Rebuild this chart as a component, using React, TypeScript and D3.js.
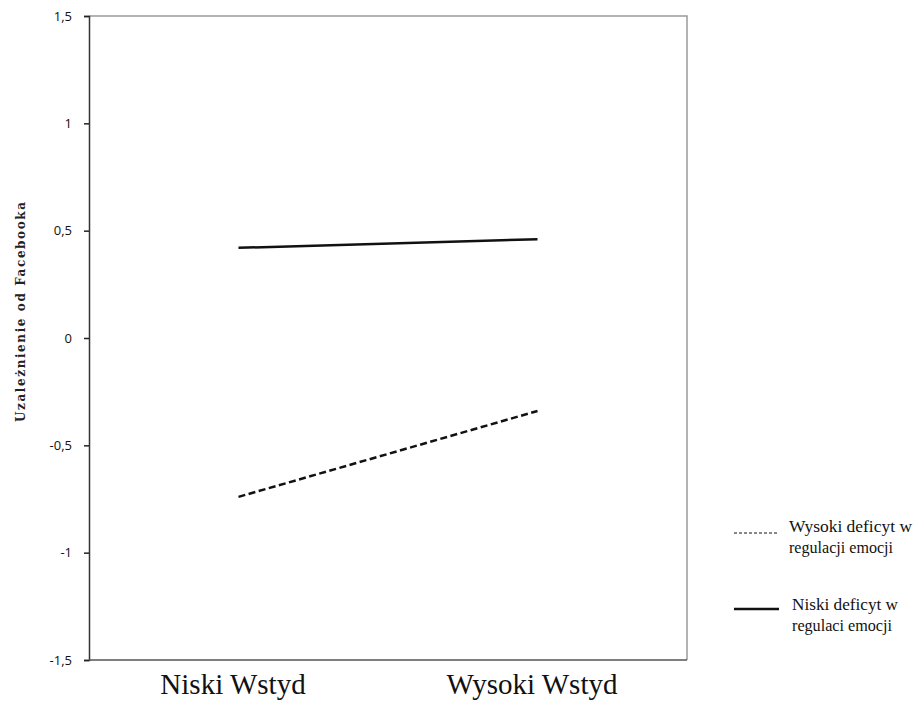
import React, { useRef, useEffect } from "react";
import * as d3 from "d3";

const categories = ["Niski Wstyd", "Wysoki Wstyd"];
const highDeficit = [-0.74, -0.34];
const lowDeficit = [0.42, 0.46];
const yTicks = [-1.5, -1, -0.5, 0, 0.5, 1, 1.5];
const seriesNames = [
  ["Wysoki deficyt w", "regulacji emocji"],
  ["Niski deficyt w", "regulaci emocji"],
];

const SERIF = "'Liberation Serif', 'Times New Roman', serif";
const SANS = "'Open Sans', 'Liberation Sans', sans-serif";

export default function App() {
  const ref = useRef<SVGSVGElement>(null);

  useEffect(() => {
    const width = 915, height = 706;
    const m = { left: 89, right: 228, top: 16, bottom: 46 };
    const svg = d3.select(ref.current).attr("width", width).attr("height", height);
    svg.selectAll("*").remove();

    const x = d3.scalePoint<string>().domain(categories).range([m.left, width - m.right]).padding(0.5);
    const y = d3.scaleLinear().domain([-1.5, 1.5]).range([height - m.bottom, m.top]);

    // ramka: gora i prawa szara
    svg.append("path")
      .attr("d", `M${m.left},${m.top}H${width - m.right}V${height - m.bottom}`)
      .attr("fill", "none").attr("stroke", "#9a9a9a").attr("stroke-width", 1.5);

    // os Y
    const yAxis = svg.append("g").attr("transform", `translate(${m.left},0)`)
      .call(d3.axisLeft(y).tickValues(yTicks).tickSize(5).tickPadding(12)
        .tickFormat(d => String(d).replace(".", ",")));
    yAxis.attr("font-family", SANS);
    yAxis.select(".domain").attr("stroke", "#333").attr("stroke-width", 1.5);
    yAxis.selectAll(".tick line").attr("stroke", "#222").attr("stroke-width", 1.5);
    yAxis.selectAll("text").attr("font-size", 13).attr("fill", "#111");

    // os X
    const xAxis = svg.append("g").attr("transform", `translate(0,${height - m.bottom})`)
      .call(d3.axisBottom(x).tickSize(0).tickPadding(12));
    xAxis.attr("font-family", SERIF);
    xAxis.select(".domain").attr("d", `M${m.left},0H${width - m.right}`).attr("stroke", "#555").attr("stroke-width", 1.5);
    xAxis.selectAll("text").attr("font-size", 29).attr("fill", "#111").attr("dy", "0.75em").attr("dx", -6);

    // tytul osi Y
    svg.append("text")
      .attr("transform", `translate(25,312) rotate(-90)`)
      .attr("text-anchor", "middle")
      .attr("font-family", "'DejaVu Serif', serif").attr("font-size", 12).attr("font-weight", "bold").attr("fill", "#222")
      .attr("textLength", 220).attr("lengthAdjust", "spacing")
      .text("Uzależnienie  od  Facebooka");

    const line = d3.line<number>().x((_, i) => x(categories[i])!).y(d => y(d));

    svg.append("path").datum(lowDeficit).attr("d", line)
      .attr("fill", "none").attr("stroke", "#111").attr("stroke-width", 2.5);
    svg.append("path").datum(highDeficit).attr("d", line)
      .attr("fill", "none").attr("stroke", "#111").attr("stroke-width", 2.5)
      .attr("stroke-dasharray", "7,3.5");

    // legenda
    const legend = [
      { y: 533, dash: "3,2", sw: 1, tx: 789, ty: 532, len: [123, 104], names: seriesNames[0] },
      { y: 609, dash: null, sw: 2.5, tx: 792, ty: 610, len: [106, 100], names: seriesNames[1] },
    ];
    legend.forEach(l => {
      svg.append("line").attr("x1", 734).attr("x2", 779).attr("y1", l.y).attr("y2", l.y)
        .attr("stroke", "#111").attr("stroke-width", l.sw)
        .attr("stroke-dasharray", l.dash);
      l.names.forEach((n, i) => {
        svg.append("text").attr("font-family", SERIF).attr("font-size", 16).attr("fill", "#111")
          .attr("x", l.tx).attr("y", l.ty + i * 21)
          .attr("textLength", l.len[i]).attr("lengthAdjust", "spacingAndGlyphs")
          .text(n);
      });
    });
  }, []);

  return <svg ref={ref} style={{ position: "absolute", left: 0, top: 0, background: "#fff" }} />;
}
